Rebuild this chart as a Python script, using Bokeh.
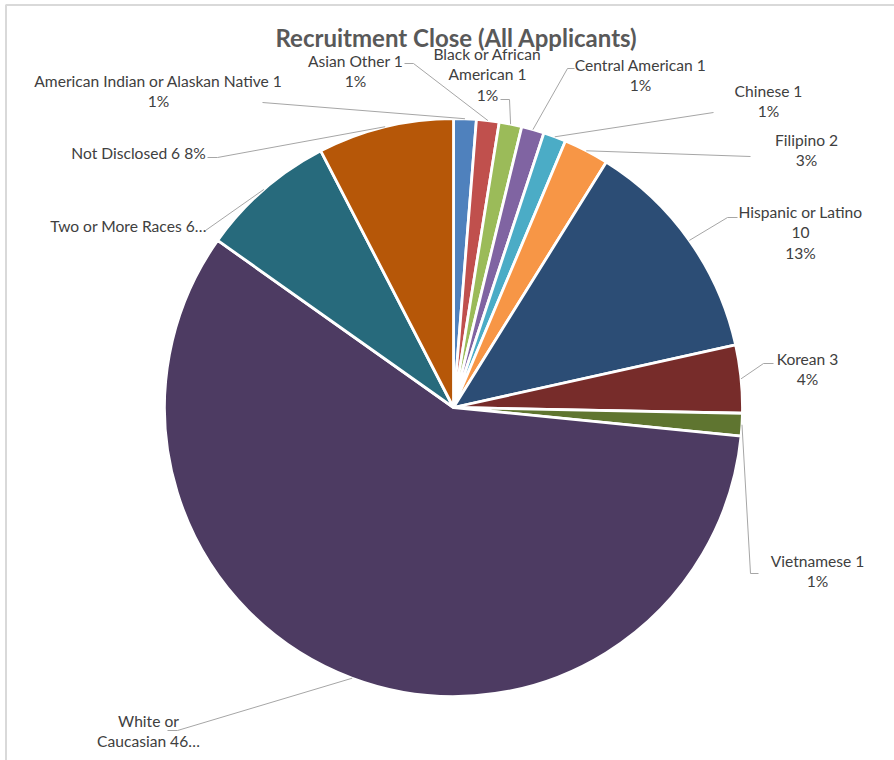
import numpy as np
from bokeh.plotting import figure
from bokeh.models import Range1d, ColumnDataSource
from bokeh.core.properties import value
from bokeh.embed import file_html
from bokeh.resources import INLINE

# ---------------- data ----------------
title = "Recruitment Close (All Applicants)"
categories = [
    "American Indian or Alaskan Native", "Asian Other", "Black or African American",
    "Central American", "Chinese", "Filipino", "Hispanic or Latino", "Korean",
    "Vietnamese", "White or Caucasian", "Two or More Races", "Not Disclosed",
]
counts = [1, 1, 1, 1, 1, 2, 10, 3, 1, 46, 6, 6]
label_texts = [
    "American Indian or Alaskan Native 1\n1%",
    "Asian Other 1\n1%",
    "Black or African\nAmerican 1\n1%",
    "Central American 1\n1%",
    "Chinese 1\n1%",
    "Filipino 2\n3%",
    "Hispanic or Latino\n10\n13%",
    "Korean 3\n4%",
    "Vietnamese 1\n1%",
    "White or\nCaucasian 46\u2026",
    "Two or More Races 6\u2026",
    "Not Disclosed 6 8%",
]

# ---------------- styles / layout ----------------
colors = ["#4F81BD", "#C0504D", "#9BBB59", "#8064A2", "#4BACC6", "#F79646",
          "#2C4D75", "#772C2A", "#5F7530", "#4D3B62", "#276A7C", "#B65708"]
W, H = 894, 760
CX, CY, R = 453, 407, 289          # pixel coords (y from top)
LINE_H = 20.5
# label block centre x, first-line centre y (pixels from top)
label_pos = [(158, 80), (355, 60), (487, 53), (640, 64), (768, 90), (806, 139),
             (800, 211), (807, 358), (817, 560), (148, 720), (128, 225), (138, 152)]
# leader line bend/end points (pixels from top)
leader_pts = [
    [(262, 102)],
    [(413, 63), (404, 63)],
    [(509, 99), (500, 99)],
    [(567, 68), (574, 68)],
    [(713, 112)],
    [(750, 156)],
    [(727, 217), (737, 217)],
    [(763, 363), (773, 363)],
    [(750, 573), (758, 573)],
    [(177, 730), (167, 730)],
    [(205, 230)],
    [(217, 157), (207, 157)],
]

def Y(ypx):
    return H - ypx

p = figure(width=W, height=H, x_range=Range1d(0, W), y_range=Range1d(0, H),
           output_backend="svg", toolbar_location=None, min_border=0,
           x_axis_type=None, y_axis_type=None)
p.grid.visible = False
p.outline_line_color = None
p.background_fill_color = "white"
p.border_fill_color = "white"

# chart border (left and top edges visible)
p.line(x=[5.5, 5.5, W], y=[0, Y(4.5), Y(4.5)], line_color="#d9d9d9", line_width=2)

total = float(sum(counts))
cum = np.concatenate([[0], np.cumsum(counts)])
start = np.pi / 2 - 2 * np.pi * cum[:-1] / total
end = np.pi / 2 - 2 * np.pi * cum[1:] / total
mid = np.pi / 2 - 2 * np.pi * (cum[:-1] + np.array(counts) / 2.0) / total

src = ColumnDataSource(dict(start=start, end=end, color=colors, cat=categories))
p.wedge(x=CX, y=Y(CY), radius=R, start_angle="start", end_angle="end",
        direction="clock", fill_color="color", line_color="white",
        line_width=2.8, source=src)

# leader lines
xs, ys = [], []
for i in range(len(counts)):
    ex = CX + R * np.cos(mid[i])
    ey = Y(CY) + R * np.sin(mid[i])
    lx = [ex] + [pt[0] for pt in leader_pts[i]]
    ly = [ey] + [Y(pt[1]) for pt in leader_pts[i]]
    xs.append(lx)
    ys.append(ly)
p.multi_line(xs=xs, ys=ys, line_color="#a6a6a6", line_width=1)

# labels
tx, ty, tt = [], [], []
for i, lab in enumerate(label_texts):
    for j, line in enumerate(lab.split("\n")):
        tx.append(label_pos[i][0])
        ty.append(Y(label_pos[i][1] + j * LINE_H))
        tt.append(line)
p.text(x=tx, y=ty, text=tt, text_font=value("Lato"), text_font_size="15.6px",
       text_color="#404040", text_align="center", text_baseline="middle")

# title
p.text(x=[456], y=[Y(37)], text=[title], text_font=value("Lato"),
       text_font_size="24px", text_font_style="bold", text_color="#595959",
       text_align="center", text_baseline="middle")

open("out.html", "w").write(file_html(p, INLINE))
